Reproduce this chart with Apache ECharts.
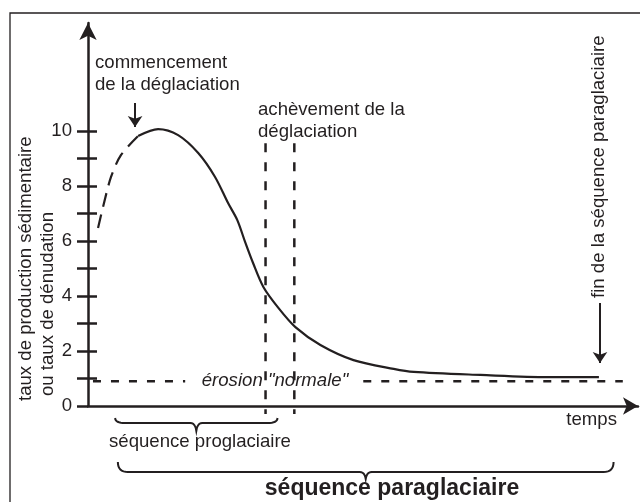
<!DOCTYPE html>
<html>
<head>
<meta charset="utf-8">
<script src="https://cdn.jsdelivr.net/npm/echarts@6/dist/echarts.min.js"></script>
<style>
  html, body { margin: 0; padding: 0; background: #fff; }
  #chart { width: 640px; height: 502px; }
</style>
</head>
<body>
<div id="chart"></div>
<script>
// temps (unités arbitraires) et taux
const timeDashed = [1.85, 2.77, 4.24, 6.09, 9.23];
const rateDashed = [6.47, 7.24, 8.33, 9.13, 9.82];
const timeSolid = [9.23, 12.92, 16.6, 20.3, 23.4, 25.8, 27.5, 29.0, 30.4, 32.3, 35.1, 38.2, 42.8, 48.9, 56.3, 60.0, 72.3, 84.7, 94.1];
const rateSolid = [9.82, 10.07, 9.85, 9.20, 8.33, 7.38, 6.76, 5.93, 5.20, 4.33, 3.56, 2.87, 2.22, 1.67, 1.35, 1.24, 1.13, 1.05, 1.05];

const rateTicks = [0, 1, 2, 3, 4, 5, 6, 7, 8, 9, 10];
const rateLabels = [0, 2, 4, 6, 8, 10];

// érosion "normale" (niveau de base) avec trou pour le texte
const normalRate = 0.9;
const normalSegments = [[-2.4, 17.9], [50.7, 98.5]];

// fin de la déglaciation (deux bornes)
const deglaciationEnd = [32.7, 38.0];
const deglaciationTop = 9.56;
const deglaciationBottom = -0.29;

// flèches : [temps, taux départ, taux arrivée]
const arrowStart = [[8.67, 11.02, 10.15], [94.3, 3.75, 1.56]];

// accolades des séquences
const phaseNames = ['séquence proglaciaire', 'séquence paraglaciaire'];
const phaseStart = [5.0, 5.5];
const phaseEnd = [34.9, 96.8];

const ink = '#231f20';
const font = '"Liberation Sans", Arial, sans-serif';
const fs = 18.6;

const chart = echarts.init(document.getElementById('chart'));

const zip = (xs, ys) => xs.map((x, i) => [x, ys[i]]);

const option = {
    animation: false,
    grid: {left: 88, right: 2, top: 23, bottom: 96},
    xAxis: {
        type: 'value', min: 0, max: 101.3,
        axisLine: {lineStyle: {color: ink, width: 2.5}, symbol: ['none', 'arrow'], symbolSize: [13, 15]},
        axisTick: {show: false},
        axisLabel: {show: false},
        splitLine: {show: false}
    },
    yAxis: [
        {
            type: 'value', min: 0, max: 13.93, position: 'left',
            axisLine: {show: true, lineStyle: {color: ink, width: 2.5}, symbol: ['none', 'arrow'], symbolSize: [13, 17]},
            axisTick: {show: true, length: 11, lineStyle: {color: ink, width: 2.5}, customValues: rateTicks},
            axisLabel: {customValues: rateLabels, margin: 16, color: ink, fontSize: fs, fontFamily: font},
            splitLine: {show: false}
        },
        {
            type: 'value', min: 0, max: 13.93, position: 'left',
            axisLine: {show: false},
            axisTick: {show: true, inside: true, length: 9, lineStyle: {color: ink, width: 2.5}, customValues: rateTicks.slice(1)},
            axisLabel: {show: false},
            splitLine: {show: false}
        }
    ],
    series: [
        {
            type: 'line', data: zip(timeDashed, rateDashed), smooth: 0.3, showSymbol: false, clip: false,
            lineStyle: {color: ink, width: 2.2, type: [14, 8]}
        },
        {
            type: 'line', data: zip(timeSolid, rateSolid), smooth: 0.3, showSymbol: false, clip: false,
            lineStyle: {color: ink, width: 2.2}
        },
        ...normalSegments.map(s => ({
            type: 'line', data: [[s[0], normalRate], [s[1], normalRate]], showSymbol: false, clip: false,
            lineStyle: {color: ink, width: 2.5, type: [8, 10]}
        })),
        ...deglaciationEnd.map(t => ({
            type: 'line', data: [[t, deglaciationTop], [t, deglaciationBottom]], showSymbol: false, clip: false,
            lineStyle: {color: ink, width: 2.5, type: [9, 10]}
        })),
        {
            type: 'lines', coordinateSystem: 'cartesian2d',
            symbol: ['none', 'arrow'], symbolSize: [9, 11],
            lineStyle: {color: ink, width: 2, opacity: 1},
            data: arrowStart.map(a => ({coords: [[a[0], a[1]], [a[0], a[2]]]}))
        }
    ]
};
chart.setOption(option);

// accolades
function quad(p0, c, p1, n) {
    const pts = [];
    for (let i = 0; i <= n; i++) {
        const t = i / n, u = 1 - t;
        pts.push([u * u * p0[0] + 2 * u * t * c[0] + t * t * p1[0], u * u * p0[1] + 2 * u * t * c[1] + t * t * p1[1]]);
    }
    return pts;
}
function brace(x0, x1, top, d, cd) {
    const r = 10, c = 6, y = top + d, xm = (x0 + x1) / 2;
    return [].concat(
        quad([x0, top], [x0, y], [x0 + r, y], 8),
        quad([xm - c, y], [xm - 1, y], [xm, y + cd], 6),
        quad([xm, y + cd], [xm + 1, y], [xm + c, y], 6),
        quad([x1 - r, y], [x1, y], [x1, top], 8)
    );
}
const braceStyle = [{top: 418, d: 5, cd: 8}, {top: 462, d: 10, cd: 7}];
const braces = phaseNames.map((name, i) => {
    const x0 = chart.convertToPixel({gridIndex: 0}, [phaseStart[i], 0])[0];
    const x1 = chart.convertToPixel({gridIndex: 0}, [phaseEnd[i], 0])[0];
    const b = braceStyle[i];
    return {
        type: 'polyline', silent: true,
        shape: {points: brace(x0, x1, b.top, b.d, b.cd)},
        style: {stroke: ink, lineWidth: 2, fill: null}
    };
});

const txt = (x, y, text, extra) => Object.assign({
    type: 'text', x: x, y: y, silent: true,
    style: Object.assign({
        text: text, fill: ink, fontSize: fs, fontFamily: font,
        textAlign: 'left', align: 'left', textVerticalAlign: 'middle', verticalAlign: 'middle', lineHeight: 22
    }, extra && extra.style)
}, extra && extra.el);

chart.setOption({
    graphic: [
        {type: 'rect', silent: true, shape: {x: 10, y: 13, width: 640, height: 500}, style: {fill: null, stroke: ink, lineWidth: 1.3}},
        ...braces,
        txt(95, 74, 'commencement\nde la déglaciation'),
        txt(258, 121, 'achèvement de la\ndéglaciation'),
        txt(275, 381, 'érosion "normale"', {style: {fontStyle: 'italic', textAlign: 'center', align: 'center'}}),
        txt(617, 420, 'temps', {style: {textAlign: 'right', align: 'right'}}),
        txt(200, 442, phaseNames[0], {style: {textAlign: 'center', align: 'center'}}),
        txt(392, 489, phaseNames[1], {style: {textAlign: 'center', align: 'center', fontWeight: 'bold', fontSize: 23}}),
        txt(26, 401, 'taux de production sédimentaire', {el: {rotation: Math.PI / 2}}),
        txt(48, 396, 'ou taux de dénudation', {el: {rotation: Math.PI / 2}}),
        txt(599, 298, 'fin de la séquence paraglaciaire', {el: {rotation: Math.PI / 2}})
    ]
});
</script>
</body>
</html>
